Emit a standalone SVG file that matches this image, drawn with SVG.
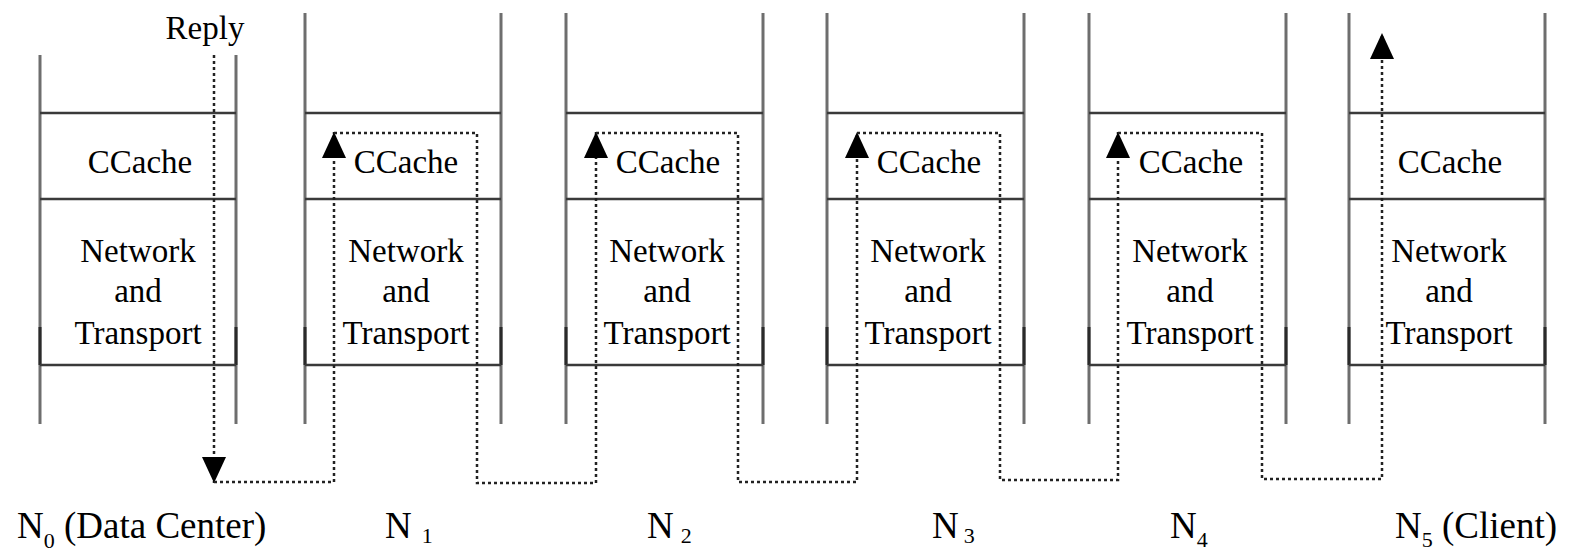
<svg xmlns="http://www.w3.org/2000/svg" width="1571" height="551" viewBox="0 0 1571 551">
  <style>
    .side { stroke: #6e6e6e; stroke-width: 3; fill: none; }
    .side-dark { stroke: #2a2a2a; stroke-width: 3; fill: none; }
    .layer { stroke: #3a3a3a; stroke-width: 2.5; fill: none; }
    text { font-family: 'Liberation Serif', 'Times New Roman', Times, 'DejaVu Serif', serif; }
    .lbl { font-size: 33px; fill: #000; text-anchor: middle; }
    .node-name { font-size: 37px; fill: #000; }
    .sub { font-size: 22px; }
    .flow { stroke: #222; stroke-width: 2.5; fill: none; stroke-dasharray: 3 3; }
  </style>
  <defs>
    <marker id="arrow" markerUnits="userSpaceOnUse" viewBox="0 0 26 24" refX="26" refY="12" markerWidth="26" markerHeight="24" orient="auto">
      <path d="M0,0 L26,12 L0,24 Z" fill="#000"/>
    </marker>
  </defs>

  <rect width="1571" height="551" fill="#fff"/>

  <!-- N0: data center stack -->
  <g id="node-n0" font-family="Liberation Serif, serif">
    <line class="side" x1="40" y1="55" x2="40" y2="424"/>
    <line class="side" x1="236" y1="55" x2="236" y2="424"/>
    <line class="side-dark" x1="40" y1="327" x2="40" y2="365"/>
    <line class="side-dark" x1="236" y1="327" x2="236" y2="365"/>
    <line class="layer" x1="40" y1="113" x2="236" y2="113"/>
    <line class="layer" x1="40" y1="199" x2="236" y2="199"/>
    <line class="layer" x1="40" y1="365" x2="236" y2="365"/>
    <text class="lbl" x="140" y="173">CCache</text>
    <text class="lbl" x="138" y="262">Network</text>
    <text class="lbl" x="138" y="302">and</text>
    <text class="lbl" x="138" y="344">Transport</text>
    <text class="node-name" x="17" y="538">N<tspan class="sub" dy="10">0</tspan><tspan dy="-10"> (Data Center)</tspan></text>
  </g>

  <!-- N1 -->
  <g id="node-n1">
    <line class="side" x1="305" y1="13" x2="305" y2="424"/>
    <line class="side" x1="501" y1="13" x2="501" y2="424"/>
    <line class="side-dark" x1="305" y1="327" x2="305" y2="365"/>
    <line class="side-dark" x1="501" y1="327" x2="501" y2="365"/>
    <line class="layer" x1="305" y1="113" x2="501" y2="113"/>
    <line class="layer" x1="305" y1="199" x2="501" y2="199"/>
    <line class="layer" x1="305" y1="365" x2="501" y2="365"/>
    <text class="lbl" x="406" y="173">CCache</text>
    <text class="lbl" x="406" y="262">Network</text>
    <text class="lbl" x="406" y="302">and</text>
    <text class="lbl" x="406" y="344">Transport</text>
    <text class="node-name" x="385" y="538">N<tspan class="sub" dx="10" dy="5">1</tspan></text>
  </g>

  <!-- N2 -->
  <g id="node-n2">
    <line class="side" x1="566" y1="13" x2="566" y2="424"/>
    <line class="side" x1="763" y1="13" x2="763" y2="424"/>
    <line class="side-dark" x1="566" y1="327" x2="566" y2="365"/>
    <line class="side-dark" x1="763" y1="327" x2="763" y2="365"/>
    <line class="layer" x1="566" y1="113" x2="763" y2="113"/>
    <line class="layer" x1="566" y1="199" x2="763" y2="199"/>
    <line class="layer" x1="566" y1="365" x2="763" y2="365"/>
    <text class="lbl" x="668" y="173">CCache</text>
    <text class="lbl" x="667" y="262">Network</text>
    <text class="lbl" x="667" y="302">and</text>
    <text class="lbl" x="667" y="344">Transport</text>
    <text class="node-name" x="647" y="538">N<tspan class="sub" dx="7" dy="5">2</tspan></text>
  </g>

  <!-- N3 -->
  <g id="node-n3">
    <line class="side" x1="827" y1="13" x2="827" y2="424"/>
    <line class="side" x1="1024" y1="13" x2="1024" y2="424"/>
    <line class="side-dark" x1="827" y1="327" x2="827" y2="365"/>
    <line class="side-dark" x1="1024" y1="327" x2="1024" y2="365"/>
    <line class="layer" x1="827" y1="113" x2="1024" y2="113"/>
    <line class="layer" x1="827" y1="199" x2="1024" y2="199"/>
    <line class="layer" x1="827" y1="365" x2="1024" y2="365"/>
    <text class="lbl" x="929" y="173">CCache</text>
    <text class="lbl" x="928" y="262">Network</text>
    <text class="lbl" x="928" y="302">and</text>
    <text class="lbl" x="928" y="344">Transport</text>
    <text class="node-name" x="932" y="538">N<tspan class="sub" dx="5" dy="5">3</tspan></text>
  </g>

  <!-- N4 -->
  <g id="node-n4">
    <line class="side" x1="1089" y1="13" x2="1089" y2="424"/>
    <line class="side" x1="1286" y1="13" x2="1286" y2="424"/>
    <line class="side-dark" x1="1089" y1="327" x2="1089" y2="365"/>
    <line class="side-dark" x1="1286" y1="327" x2="1286" y2="365"/>
    <line class="layer" x1="1089" y1="113" x2="1286" y2="113"/>
    <line class="layer" x1="1089" y1="199" x2="1286" y2="199"/>
    <line class="layer" x1="1089" y1="365" x2="1286" y2="365"/>
    <text class="lbl" x="1191" y="173">CCache</text>
    <text class="lbl" x="1190" y="262">Network</text>
    <text class="lbl" x="1190" y="302">and</text>
    <text class="lbl" x="1190" y="344">Transport</text>
    <text class="node-name" x="1170" y="538">N<tspan class="sub" dy="9">4</tspan></text>
  </g>

  <!-- N5: client stack -->
  <g id="node-n5">
    <line class="side" x1="1349" y1="13" x2="1349" y2="424"/>
    <line class="side" x1="1545" y1="13" x2="1545" y2="424"/>
    <line class="side-dark" x1="1349" y1="327" x2="1349" y2="365"/>
    <line class="side-dark" x1="1545" y1="327" x2="1545" y2="365"/>
    <line class="layer" x1="1349" y1="113" x2="1545" y2="113"/>
    <line class="layer" x1="1349" y1="199" x2="1545" y2="199"/>
    <line class="layer" x1="1349" y1="365" x2="1545" y2="365"/>
    <text class="lbl" x="1450" y="173">CCache</text>
    <text class="lbl" x="1449" y="262">Network</text>
    <text class="lbl" x="1449" y="302">and</text>
    <text class="lbl" x="1449" y="344">Transport</text>
    <text class="node-name" x="1395" y="538">N<tspan class="sub" dy="9">5</tspan><tspan dy="-9"> (Client)</tspan></text>
  </g>

  <!-- reply path hopping through the caches -->
  <g id="connectors">
    <text class="lbl" x="205" y="39">Reply</text>
    <path class="flow" d="M214,55 V483" marker-end="url(#arrow)"/>
    <path class="flow" d="M214,482 H334 V132" marker-end="url(#arrow)"/>
    <path class="flow" d="M334,133 H477 V483 H596 V132" marker-end="url(#arrow)"/>
    <path class="flow" d="M596,133 H738 V482 H857 V132" marker-end="url(#arrow)"/>
    <path class="flow" d="M857,133 H1000 V480 H1118 V132" marker-end="url(#arrow)"/>
    <path class="flow" d="M1118,133 H1262 V479 H1382 V33" marker-end="url(#arrow)"/>
  </g>
</svg>
